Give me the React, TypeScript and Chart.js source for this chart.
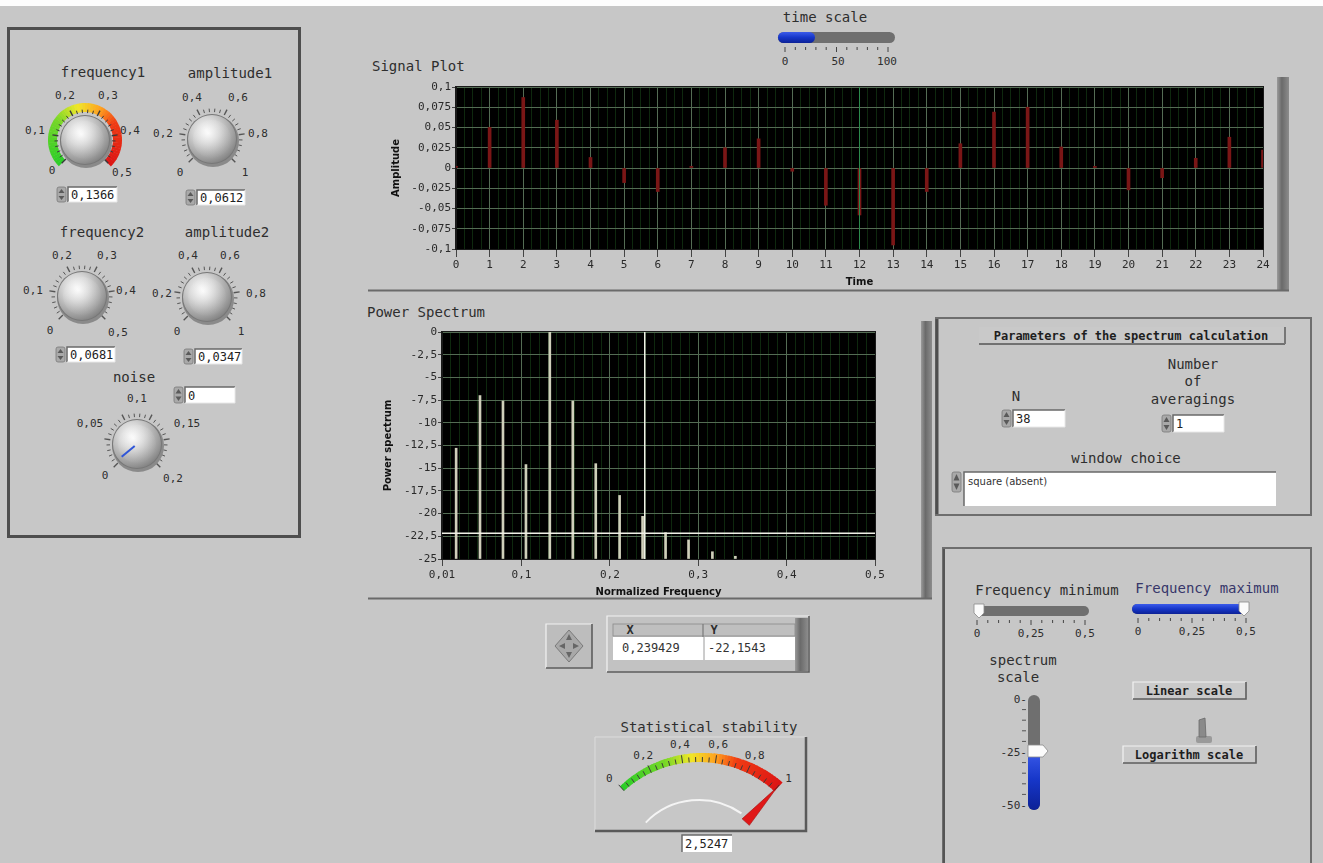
import React, { useEffect, useRef } from "react";
import { Chart, registerables } from "chart.js";

Chart.register(...registerables);

// ---------------- data ----------------
const signalTime = [0, 1, 2, 3, 4, 5, 6, 7, 8, 9, 10, 11, 12, 13, 14, 15, 16, 17, 18, 19, 20, 21, 22, 23, 24];
const signalAmplitude = [0.002, 0.05, 0.087, 0.059, 0.013, -0.018, -0.029, 0.002, 0.025, 0.036, -0.004, -0.046, -0.058, -0.095, -0.029, 0.03, 0.069, 0.075, 0.026, 0.002, -0.027, -0.012, 0.012, 0.038, 0.022];
const signalXLabels = [0, 1, 2, 3, 4, 5, 6, 7, 8, 9, 10, 11, 12, 13, 14, 15, 16, 17, 18, 19, 20, 21, 22, 23, 24];
const signalYTicks = [0.1, 0.075, 0.05, 0.025, 0, -0.025, -0.05, -0.075, -0.1];
const signalCursorTime = 12;

const spectrumFrequency = [0.026, 0.053, 0.079, 0.105, 0.132, 0.158, 0.184, 0.211, 0.237, 0.263, 0.289, 0.316, 0.342];
const spectrumPower = [-12.8, -7.0, -7.6, -14.6, 0, -7.6, -14.5, -18.0, -20.3, -22.1, -22.9, -24.2, -24.7];
const spectrumXLabels = [0.01, 0.1, 0.2, 0.3, 0.4, 0.5];
const spectrumYTicks = [0, -2.5, -5, -7.5, -10, -12.5, -15, -17.5, -20, -22.5, -25];
const cursorX = 0.239429;
const cursorY = -22.1543;

// ---------------- styles ----------------
const BG = "#c7c7c7";
const MONO = "'DejaVu Sans Mono', 'Liberation Mono', monospace";
const SANS = "'DejaVu Sans', 'Liberation Sans', sans-serif";
const GRID_MAJOR = "rgb(84,108,84)";
const GRID_MINOR = "rgb(14,40,14)";
const comma = (v: number) => String(v).replace(".", ",");

const plotBg = {
  id: "plotBg",
  beforeDraw(chart: any) {
    const { ctx, chartArea: a } = chart;
    ctx.save();
    ctx.fillStyle = "#000";
    ctx.fillRect(a.left, a.top, a.right - a.left, a.bottom - a.top);
    ctx.restore();
  },
  afterDraw(chart: any) {
    const { ctx, chartArea: a } = chart;
    ctx.save();
    ctx.strokeStyle = "#1a1a1a";
    ctx.lineWidth = 1;
    ctx.strokeRect(a.left - 0.5, a.top - 0.5, a.right - a.left + 1, a.bottom - a.top + 1);
    ctx.restore();
  },
};

function SignalPlot() {
  const ref = useRef<HTMLCanvasElement | null>(null);
  useEffect(() => {
    if (!ref.current) return;
    const isInt = (v: number) => Math.abs(v - Math.round(v)) < 1e-9;
    const chart = new Chart(ref.current, {
      type: "bar",
      data: {
        datasets: [
          {
            type: "line",
            data: [
              { x: signalCursorTime, y: -0.1 },
              { x: signalCursorTime, y: 0.1 },
            ],
            borderColor: "#2b8a4c",
            borderWidth: 1,
            pointRadius: 0,
          } as any,
          {
            type: "bar",
            data: signalTime.map((t, i) => ({ x: t, y: signalAmplitude[i] })),
            backgroundColor: "#7a1616",
            borderWidth: 0,
            barThickness: 3,
          } as any,
        ],
      },
      options: {
        animation: false,
        responsive: false,
        events: [],
        plugins: { legend: { display: false }, tooltip: { enabled: false } },
        layout: { padding: { top: 15, right: 13, left: 0, bottom: 0 } },
        scales: {
          x: {
            type: "linear",
            min: 0,
            max: 24,
            offset: false,
            afterBuildTicks: (s: any) => {
              const t: any[] = [];
              for (let i = 0; i <= 96; i++) t.push({ value: i / 4 });
              s.ticks = t;
            },
            afterFit: (s: any) => {
              s.height = 43;
            },
            grid: {
              offset: false,
              color: (c: any) => (c.tick && isInt(c.tick.value) ? GRID_MAJOR : GRID_MINOR),
              tickColor: (c: any) => (c.tick && isInt(c.tick.value) ? "#444" : "rgba(0,0,0,0)"),
              tickLength: 8,
            },
            border: { color: "#1a1a1a" },
            ticks: {
              autoSkip: false,
              maxRotation: 0,
              padding: 2,
              color: "#2a2a2a",
              font: { family: MONO, size: 11 },
              callback: (v: any) => (signalXLabels.some((l) => Math.abs(l - v) < 1e-9) ? String(v) : ""),
            },
            title: {
              display: true,
              text: "Time",
              color: "#111",
              font: { family: SANS, size: 10, weight: "bold" },
              padding: { top: 0, bottom: 4 },
            },
          },
          y: {
            type: "linear",
            min: -0.1,
            max: 0.1,
            afterBuildTicks: (s: any) => {
              s.ticks = signalYTicks.map((v) => ({ value: v }));
            },
            afterFit: (s: any) => {
              s.width = 74;
            },
            grid: { color: GRID_MAJOR, tickColor: "#444", tickLength: 4 },
            border: { color: "#1a1a1a" },
            ticks: {
              padding: 1,
              color: "#2a2a2a",
              font: { family: MONO, size: 11 },
              callback: (v: any) => comma(v),
            },
            title: {
              display: true,
              text: "Amplitude",
              color: "#111",
              font: { family: SANS, size: 10, weight: "bold" },
              padding: { top: 8, bottom: 0 },
            },
          },
        },
      } as any,
      plugins: [plotBg],
    });
    return () => chart.destroy();
  }, []);
  return (
    <canvas
      ref={ref}
      width={894}
      height={220}
      style={{ position: "absolute", left: 382, top: 72, width: 894, height: 220, zIndex: 2 }}
    />
  );
}

function SpectrumPlot() {
  const ref = useRef<HTMLCanvasElement | null>(null);
  useEffect(() => {
    if (!ref.current) return;
    const near = (a: number, b: number) => Math.abs(a - b) < 1e-9;
    const major = (v: number) => near(v * 10, Math.round(v * 10));
    const chart = new Chart(ref.current, {
      type: "bar",
      data: {
        datasets: [
          {
            type: "line",
            data: [
              { x: cursorX, y: -25 },
              { x: cursorX, y: 0 },
            ],
            borderColor: "#f0f0e6",
            borderWidth: 1.5,
            pointRadius: 0,
          } as any,
          {
            type: "line",
            data: [
              { x: 0.01, y: cursorY },
              { x: 0.5, y: cursorY },
            ],
            borderColor: "#f0f0e6",
            borderWidth: 1.5,
            pointRadius: 0,
          } as any,
          {
            type: "bar",
            data: spectrumFrequency.map((f, i) => ({ x: f, y: spectrumPower[i] })),
            base: -25,
            backgroundColor: "#cfcfba",
            borderWidth: 0,
            barThickness: 2,
          } as any,
        ],
      },
      options: {
        animation: false,
        responsive: false,
        events: [],
        plugins: { legend: { display: false }, tooltip: { enabled: false } },
        layout: { padding: { top: 10, right: 25, left: 0, bottom: 0 } },
        scales: {
          x: {
            type: "linear",
            min: 0.01,
            max: 0.5,
            offset: false,
            afterBuildTicks: (s: any) => {
              const t: any[] = [];
              for (let i = 1; i <= 50; i++) t.push({ value: i / 100 });
              s.ticks = t;
            },
            afterFit: (s: any) => {
              s.height = 41;
            },
            grid: {
              offset: false,
              color: (c: any) => (c.tick && major(c.tick.value) ? GRID_MAJOR : GRID_MINOR),
              tickColor: (c: any) =>
                c.tick && spectrumXLabels.some((l) => near(l, c.tick.value)) ? "#444" : "rgba(0,0,0,0)",
              tickLength: 7,
            },
            border: { color: "#1a1a1a" },
            ticks: {
              autoSkip: false,
              maxRotation: 0,
              padding: 3,
              color: "#2a2a2a",
              font: { family: MONO, size: 11 },
              callback: (v: any) => (spectrumXLabels.some((l) => near(l, v)) ? comma(v) : ""),
            },
            title: {
              display: true,
              text: "Normalized Frequency",
              color: "#111",
              font: { family: SANS, size: 10, weight: "bold" },
              padding: { top: 0, bottom: 2 },
            },
          },
          y: {
            type: "linear",
            min: -25,
            max: 0,
            afterBuildTicks: (s: any) => {
              s.ticks = spectrumYTicks.map((v) => ({ value: v }));
            },
            afterFit: (s: any) => {
              s.width = 66;
            },
            grid: { color: GRID_MAJOR, tickColor: "#444", tickLength: 4 },
            border: { color: "#1a1a1a" },
            ticks: {
              padding: 1,
              color: "#2a2a2a",
              font: { family: MONO, size: 11 },
              callback: (v: any) => comma(v),
            },
            title: {
              display: true,
              text: "Power spectrum",
              color: "#111",
              font: { family: SANS, size: 10, weight: "bold" },
              padding: { top: 6, bottom: 0 },
            },
          },
        },
      } as any,
      plugins: [plotBg],
    });
    return () => chart.destroy();
  }, []);
  return (
    <canvas
      ref={ref}
      width={524}
      height={278}
      style={{ position: "absolute", left: 376, top: 322, width: 524, height: 278, zIndex: 2 }}
    />
  );
}

// ---------------- svg helpers ----------------
function polar(cx: number, cy: number, r: number, deg: number): [number, number] {
  const a = (deg * Math.PI) / 180;
  return [cx + r * Math.cos(a), cy + r * Math.sin(a)];
}
function sector(cx: number, cy: number, r0: number, r1: number, a0: number, a1: number) {
  const [x0, y0] = polar(cx, cy, r1, a0);
  const [x1, y1] = polar(cx, cy, r1, a1);
  const [x2, y2] = polar(cx, cy, r0, a1);
  const [x3, y3] = polar(cx, cy, r0, a0);
  const large = a1 - a0 > 180 ? 1 : 0;
  return `M${x0},${y0} A${r1},${r1} 0 ${large} 1 ${x1},${y1} L${x2},${y2} A${r0},${r0} 0 ${large} 0 ${x3},${y3} Z`;
}
type Stop = [number, number[]];
const HOT: Stop[] = [
  [0, [40, 205, 40]],
  [0.3, [120, 215, 40]],
  [0.45, [240, 232, 40]],
  [0.6, [255, 160, 30]],
  [0.72, [240, 60, 20]],
  [1, [220, 20, 20]],
];
function lerpColor(stops: Stop[], f: number) {
  for (let i = 1; i < stops.length; i++) {
    if (f <= stops[i][0]) {
      const [f0, c0] = stops[i - 1];
      const [f1, c1] = stops[i];
      const t = (f - f0) / (f1 - f0);
      return `rgb(${c0.map((v, k) => Math.round(v + (c1[k] - v) * t)).join(",")})`;
    }
  }
  const c = stops[stops.length - 1][1];
  return `rgb(${c.join(",")})`;
}

function Txt(p: { x: number; y: number; t: string; s?: number; a?: "start" | "middle" | "end"; b?: boolean; c?: string; f?: string }) {
  return (
    <text
      x={p.x}
      y={p.y}
      fontSize={p.s ?? 14}
      fontFamily={p.f ?? MONO}
      fontWeight={p.b ? "bold" : "normal"}
      fill={p.c ?? "#2e2e2e"}
      textAnchor={p.a ?? "middle"}
      dominantBaseline="central"
    >
      {p.t}
    </text>
  );
}

function Spinner({ x, y, h }: { x: number; y: number; h: number }) {
  return (
    <g>
      <rect x={x} y={y} width={9} height={h} rx={2} fill="#a9a9a9" stroke="#7a7a7a" strokeWidth={0.8} />
      <path d={`M${x + 1.5},${y + h / 2 - 1.5} L${x + 4.5},${y + 2} L${x + 7.5},${y + h / 2 - 1.5}Z`} fill="#5a5a5a" />
      <path d={`M${x + 1.5},${y + h / 2 + 1.5} L${x + 4.5},${y + h - 2} L${x + 7.5},${y + h / 2 + 1.5}Z`} fill="#5a5a5a" />
    </g>
  );
}

function NumBox({ x, y, w, h, t, s = 12 }: { x: number; y: number; w: number; h: number; t: string; s?: number }) {
  return (
    <g>
      <Spinner x={x - 11} y={y} h={h} />
      <rect x={x} y={y} width={w} height={h} fill="#fff" />
      <path d={`M${x},${y + h} L${x},${y} L${x + w},${y}`} stroke="#6a6a6a" strokeWidth={1.5} fill="none" />
      <path d={`M${x + w},${y} L${x + w},${y + h} L${x},${y + h}`} stroke="#e8e8e8" strokeWidth={1} fill="none" />
      <Txt x={x + 3} y={y + h / 2 + 0.5} t={t} s={s} a="start" c="#222" />
    </g>
  );
}

function Bevel({ x, y, w, h, fill = "#c8c8c8", sunken = false, dark = "#5e5e5e" }: any) {
  return (
    <g>
      <rect x={x} y={y} width={w} height={h} fill={fill} />
      <path d={`M${x},${y + h} L${x},${y} L${x + w},${y}`} stroke={sunken ? dark : "#f2f2f2"} strokeWidth={1.2} fill="none" />
      <path d={`M${x + w},${y} L${x + w},${y + h} L${x},${y + h}`} stroke={sunken ? "#f2f2f2" : dark} strokeWidth={1.6} fill="none" />
    </g>
  );
}

function Knob({
  cx,
  cy,
  r,
  colored,
  labels,
  pointer,
}: {
  cx: number;
  cy: number;
  r: number;
  colored?: boolean;
  labels: [string, number, number][];
  pointer?: number;
}) {
  const els: any[] = [];
  if (colored) {
    const n = 60;
    for (let i = 0; i < n; i++) {
      const f0 = i / n;
      const f1 = (i + 1) / n;
      els.push(
        <path key={"b" + i} d={sector(cx, cy, r + 4, r + 13, 135 + 270 * f0, 135 + 270 * f1 + 0.6)} fill={lerpColor(HOT, (f0 + f1) / 2)} />
      );
    }
  }
  for (let i = 0; i <= 25; i++) {
    const a = 135 + (i * 270) / 25;
    const maj = i % 5 === 0;
    const [x0, y0] = polar(cx, cy, r + 3, a);
    const [x1, y1] = polar(cx, cy, r + (maj ? 9 : 6.5), a);
    els.push(<line key={"t" + i} x1={x0} y1={y0} x2={x1} y2={y1} stroke={colored ? "#3a3a3a" : "#555"} strokeWidth={maj ? 1.4 : 1} />);
  }
  return (
    <g>
      {els}
      <circle cx={cx + 1} cy={cy + 2} r={r + 2} fill="#8a8a8a" />
      <circle cx={cx} cy={cy} r={r + 1} fill="#777" />
      <circle cx={cx} cy={cy} r={r} fill="url(#knobGrad)" />
      <circle cx={cx} cy={cy} r={r - 5} fill="url(#knobTop)" />
      {pointer !== undefined &&
        (() => {
          const [x0, y0] = polar(cx, cy, 3, pointer);
          const [x1, y1] = polar(cx, cy, r - 4, pointer);
          return <line x1={x0} y1={y0} x2={x1} y2={y1} stroke="#2f56d8" strokeWidth={2} />;
        })()}
      {labels.map(([t, x, y], i) => (
        <Txt key={"l" + i} x={x} y={y} t={t} s={11} c="#2e2e2e" />
      ))}
    </g>
  );
}

function Gauge() {
  const cx = 699;
  const cy = 874;
  const a0 = -132;
  const a1 = -48;
  const els: any[] = [];
  const n = 60;
  for (let i = 0; i < n; i++) {
    const f0 = i / n;
    const f1 = (i + 1) / n;
    const w = 6 + 6 * ((f0 + f1) / 2);
    els.push(
      <path key={"g" + i} d={sector(cx, cy, 112, 112 + w, a0 + (a1 - a0) * f0, a0 + (a1 - a0) * f1 + 0.4)} fill={lerpColor(HOT, (f0 + f1) / 2)} />
    );
  }
  for (let i = 0; i <= 25; i++) {
    const a = a0 + ((a1 - a0) * i) / 25;
    const maj = i % 5 === 0;
    const [x0, y0] = polar(cx, cy, 112, a);
    const [x1, y1] = polar(cx, cy, maj ? 120 : 117, a);
    els.push(<line key={"k" + i} x1={x0} y1={y0} x2={x1} y2={y1} stroke="#3a3a3a" strokeWidth={1} />);
  }
  const labels: [string, number][] = [
    ["0", 0],
    ["0,2", 0.2],
    ["0,4", 0.4],
    ["0,6", 0.6],
    ["0,8", 0.8],
    ["1", 1],
  ];
  const na = a1;
  const [tx, ty] = polar(cx, cy, 117, na);
  const [bx1, by1] = polar(cx, cy, 70, na - 4);
  const [bx2, by2] = polar(cx, cy, 70, na + 4);
  const [wa, wb] = [polar(cx, cy, 74, -136), polar(cx, cy, 74, -55)];
  return (
    <g>
      <path d={`M${595},${831} L${595},${737} L${806},${737}`} stroke="#dcdcdc" strokeWidth={1} fill="none" />
      <path d={`M${806},${737} L${806},${831} L${595},${831}`} stroke="#5a5a5a" strokeWidth={2.5} fill="none" />
      <path d={`M${wa[0]},${wa[1]} A74,74 0 0 1 ${wb[0]},${wb[1]}`} stroke="#f4f4f4" strokeWidth={2} fill="none" />
      {els}
      {labels.map(([t, v], i) => {
        const [x, y] = polar(cx, cy, v === 0 || v === 1 ? 128 : 131, a0 + (a1 - a0) * v);
        return <Txt key={"gl" + i} x={x + (v === 0 ? -4 : v === 1 ? 4 : 0)} y={y} t={t} s={11} />;
      })}
      <path d={`M${tx},${ty} L${bx1},${by1} L${bx2},${by2} Z`} fill="#e01818" stroke="#a01010" strokeWidth={0.6} />
      <Txt x={709} y={727} t="Statistical stability" s={14} />
      <rect x={682} y={835} width={50} height={17} fill="#fff" />
      <path d={`M682,852 L682,835 L732,835`} stroke="#6a6a6a" strokeWidth={1.5} fill="none" />
      <Txt x={685} y={844} t="2,5247" s={12} a="start" c="#222" />
    </g>
  );
}

function HSlider({
  x,
  y,
  w,
  h,
  fillTo,
  thumb,
  tickX0,
  tickX1,
  tickY,
  labels,
  labelY,
}: {
  x: number;
  y: number;
  w: number;
  h: number;
  fillTo: number;
  thumb?: number;
  tickX0: number;
  tickX1: number;
  tickY: number;
  labels: [string, number][];
  labelY: number;
}) {
  const ticks: any[] = [];
  for (let i = 0; i <= 10; i++) {
    const tx = tickX0 + ((tickX1 - tickX0) * i) / 10;
    const maj = i % 5 === 0;
    ticks.push(<line key={i} x1={tx} y1={tickY} x2={tx} y2={tickY + (maj ? 5 : 3)} stroke="#444" strokeWidth={1} />);
  }
  return (
    <g>
      <rect x={x} y={y} width={w} height={h} rx={h / 2} fill="#6f6f6f" />
      {fillTo > x && <rect x={x} y={y} width={fillTo - x} height={h} rx={h / 2} fill="url(#blueGrad)" />}
      {thumb !== undefined && (
        <path
          d={`M${thumb - 5},${y - 2} L${thumb + 5},${y - 2} L${thumb + 5},${y + h - 3} L${thumb},${y + h + 2} L${thumb - 5},${y + h - 3} Z`}
          fill="#fbfbfb"
          stroke="#8a8a8a"
          strokeWidth={0.8}
        />
      )}
      {ticks}
      {labels.map(([t, lx], i) => (
        <Txt key={"hl" + i} x={lx} y={labelY} t={t} s={11} />
      ))}
    </g>
  );
}

function Panel() {
  return (
    <svg width={1323} height={863} style={{ position: "absolute", left: 0, top: 0, zIndex: 1 }}>
      <defs>
        <radialGradient id="knobGrad" cx="38%" cy="32%" r="75%">
          <stop offset="0" stopColor="#fafafa" />
          <stop offset="0.35" stopColor="#d6d6d6" />
          <stop offset="0.8" stopColor="#9a9a9a" />
          <stop offset="1" stopColor="#7c7c7c" />
        </radialGradient>
        <radialGradient id="knobTop" cx="40%" cy="35%" r="70%">
          <stop offset="0" stopColor="#ffffff" stopOpacity="0.7" />
          <stop offset="0.6" stopColor="#dcdcdc" stopOpacity="0.25" />
          <stop offset="1" stopColor="#bdbdbd" stopOpacity="0" />
        </radialGradient>
        <linearGradient id="blueGrad" x1="0" y1="0" x2="0" y2="1">
          <stop offset="0" stopColor="#3b5bea" />
          <stop offset="0.5" stopColor="#1636c8" />
          <stop offset="1" stopColor="#0c2196" />
        </linearGradient>
        <linearGradient id="barGrad" x1="0" y1="0" x2="1" y2="0">
          <stop offset="0" stopColor="#9a9a9a" />
          <stop offset="0.4" stopColor="#6a6a6a" />
          <stop offset="1" stopColor="#8c8c8c" />
        </linearGradient>
      </defs>
      <rect x={0} y={0} width={1323} height={6} fill="#fdfdfd" />

      {/* left control box */}
      <rect x={8.5} y={28.5} width={291} height={508} fill="none" stroke="#4e4e4e" strokeWidth={3} />
      <Txt x={103} y={72} t="frequency1" />
      <Txt x={230} y={73} t="amplitude1" />
      <Txt x={102} y={232} t="frequency2" />
      <Txt x={227} y={232} t="amplitude2" />
      <Txt x={134} y={377} t="noise" />
      <Knob
        cx={85}
        cy={140}
        r={24}
        colored
        labels={[
          ["0,2", 65, 95],
          ["0,3", 108, 95],
          ["0,1", 35, 130],
          ["0,4", 130, 130],
          ["0", 52, 170],
          ["0,5", 122, 172],
        ]}
      />
      <Knob
        cx={212}
        cy={139}
        r={24}
        labels={[
          ["0,4", 192, 97],
          ["0,6", 238, 97],
          ["0,2", 163, 133],
          ["0,8", 258, 133],
          ["0", 180, 172],
          ["1", 245, 172],
        ]}
      />
      <Knob
        cx={82}
        cy={296}
        r={24}
        labels={[
          ["0,2", 62, 255],
          ["0,3", 107, 255],
          ["0,1", 33, 290],
          ["0,4", 126, 290],
          ["0", 50, 330],
          ["0,5", 118, 332],
        ]}
      />
      <Knob
        cx={207}
        cy={297}
        r={24}
        labels={[
          ["0,4", 188, 255],
          ["0,6", 230, 255],
          ["0,2", 162, 293],
          ["0,8", 256, 293],
          ["0", 177, 331],
          ["1", 241, 331],
        ]}
      />
      <Knob
        cx={137}
        cy={444}
        r={24}
        pointer={140}
        labels={[
          ["0,1", 137, 398],
          ["0,05", 90, 423],
          ["0,15", 187, 423],
          ["0", 105, 475],
          ["0,2", 173, 478],
        ]}
      />
      <NumBox x={68} y={187} w={49} h={15} t="0,1366" />
      <NumBox x={197} y={190} w={48} h={15} t="0,0612" />
      <NumBox x={67} y={347} w={48} h={15} t="0,0681" />
      <NumBox x={195} y={349} w={47} h={15} t="0,0347" />
      <NumBox x={185} y={387} w={50} h={16} t="0" />

      {/* time scale */}
      <Txt x={825} y={17} t="time scale" />
      <HSlider
        x={778}
        y={32}
        w={117}
        h={11}
        fillTo={815}
        tickX0={785}
        tickX1={888}
        tickY={47}
        labels={[
          ["0", 785],
          ["50", 838],
          ["100", 887],
        ]}
        labelY={61}
      />

      {/* signal plot group */}
      <Txt x={372} y={66} t="Signal Plot" a="start" />
      <rect x={1277} y={77} width={12} height={214} fill="url(#barGrad)" />
      <line x1={368} y1={290.5} x2={1289} y2={290.5} stroke="#6a6a6a" strokeWidth={2} />

      {/* spectrum group */}
      <Txt x={367} y={312} t="Power Spectrum" a="start" />
      <rect x={921} y={321} width={11} height={278} fill="url(#barGrad)" />
      <line x1={368} y1={598.5} x2={932} y2={598.5} stroke="#6a6a6a" strokeWidth={2} />

      {/* cursor mover + table */}
      <Bevel x={546} y={624} w={46} h={44} fill="#bdbdbd" />
      <path d="M569,630 L583,646 L569,662 L555,646 Z" fill="#a8a8a8" stroke="#7a7a7a" strokeWidth={1} />
      <path d="M569,634 L572,640 L566,640 Z M569,658 L572,652 L566,652 Z M559,646 L565,643 L565,649 Z M579,646 L573,643 L573,649 Z" fill="#666" />
      <Bevel x={607} y={616} w={202} h={56} fill="#c2c2c2" />
      <rect x={795} y={618} width={13} height={53} fill="url(#barGrad)" />
      <rect x={613} y={624} width={182} height={12} fill="#bfbfbf" stroke="#8a8a8a" strokeWidth={0.8} />
      <line x1={703} y1={624} x2={703} y2={660} stroke="#7a7a7a" strokeWidth={1.2} />
      <rect x={613} y={637} width={182} height={23} fill="#ffffff" />
      <line x1={704} y1={637} x2={704} y2={660} stroke="#9a9a9a" strokeWidth={1} />
      <Txt x={630} y={630} t="X" s={12} b />
      <Txt x={714} y={630} t="Y" s={12} b />
      <Txt x={622} y={648} t="0,239429" s={12} a="start" c="#333" />
      <Txt x={708} y={648} t="-22,1543" s={12} a="start" c="#333" />

      <Gauge />

      {/* parameters panel */}
      <rect x={936} y={318} width={375} height={197} fill="none" stroke="#6e6e6e" strokeWidth={2} />
      <line x1={937} y1={319} x2={937} y2={514} stroke="#4e4e4e" strokeWidth={3} />
      <rect x={979} y={327} width={306} height={17} fill="#c9c9c9" />
      <line x1={979} y1={344} x2={1285} y2={344} stroke="#555" strokeWidth={1.5} />
      <line x1={1285} y1={327} x2={1285} y2={344} stroke="#777" strokeWidth={2} />
      <Txt x={1131} y={336} t="Parameters of the spectrum calculation" s={12} b c="#1e1e1e" />
      <Txt x={1016} y={396} t="N" />
      <NumBox x={1013} y={410} w={52} h={17} t="38" />
      <Txt x={1193} y={364} t="Number" />
      <Txt x={1193} y={381} t="of" />
      <Txt x={1193} y={399} t="averagings" />
      <NumBox x={1173} y={415} w={51} h={17} t="1" />
      <Txt x={1126} y={458} t="window choice" />
      <Spinner x={952} y={472} h={20} />
      <rect x={964} y={472} width={312} height={34} fill="#fff" />
      <path d="M964,506 L964,472 L1276,472" stroke="#6a6a6a" strokeWidth={1.5} fill="none" />
      <Txt x={968} y={481} t="square (absent)" s={10} a="start" f={SANS} c="#333" />

      {/* lower right panel */}
      <rect x={943} y={548} width={368} height={320} fill="none" stroke="#6e6e6e" strokeWidth={2} />
      <line x1={944} y1={549} x2={944} y2={863} stroke="#555" strokeWidth={2} />
      <Txt x={1047} y={590} t="Frequency minimum" />
      <Txt x={1207} y={588} t="Frequency maximum" c="#37376a" />
      <HSlider
        x={974}
        y={606}
        w={115}
        h={10}
        fillTo={974}
        thumb={979}
        tickX0={977}
        tickX1={1085}
        tickY={620}
        labels={[
          ["0", 977],
          ["0,25", 1031],
          ["0,5", 1085],
        ]}
        labelY={633}
      />
      <HSlider
        x={1132}
        y={604}
        w={116}
        h={10}
        fillTo={1248}
        thumb={1244}
        tickX0={1138}
        tickX1={1246}
        tickY={618}
        labels={[
          ["0", 1138],
          ["0,25", 1192],
          ["0,5", 1246],
        ]}
        labelY={631}
      />
      <Txt x={1023} y={660} t="spectrum" />
      <Txt x={1018} y={677} t="scale" />
      <rect x={1028} y={695} width={12} height={115} rx={6} fill="#6f6f6f" />
      <rect x={1028} y={750} width={12} height={60} rx={6} fill="url(#blueGrad)" />
      <path d="M1028,745 L1043,745 L1048,751 L1043,757 L1028,757 Z" fill="#fbfbfb" stroke="#8a8a8a" strokeWidth={0.8} />
      {[0, 1, 2, 3, 4, 5, 6, 7, 8, 9, 10].map((i) => (
        <line key={"vs" + i} x1={1022} y1={699 + i * 10.6} x2={1026} y2={699 + i * 10.6} stroke="#555" strokeWidth={i % 5 === 0 ? 0 : 1} />
      ))}
      <Txt x={1027} y={699} t="0-" s={11} a="end" />
      <Txt x={1027} y={752} t="-25-" s={11} a="end" />
      <Txt x={1027} y={805} t="-50-" s={11} a="end" />
      <Bevel x={1133} y={682} w={113} h={17} fill="#cacaca" />
      <Txt x={1189} y={691} t="Linear scale" s={12} b c="#1e1e1e" />
      <Bevel x={1123} y={746} w={133} h={17} fill="#cacaca" />
      <Txt x={1189} y={755} t="Logarithm scale" s={12} b c="#1e1e1e" />
      <rect x={1196} y={736} width={16} height={7} rx={2} fill="#9a9a9a" />
      <path d="M1199,737 L1199,720 L1205,718 L1206,737 Z" fill="#8a8a8a" stroke="#6a6a6a" strokeWidth={0.8} />
    </svg>
  );
}

export default function App() {
  return (
    <div
      style={{
        position: "fixed",
        left: 0,
        top: 0,
        width: 1323,
        height: 863,
        background: BG,
        overflow: "hidden",
      }}
    >
      <Panel />
      <SignalPlot />
      <SpectrumPlot />
    </div>
  );
}
